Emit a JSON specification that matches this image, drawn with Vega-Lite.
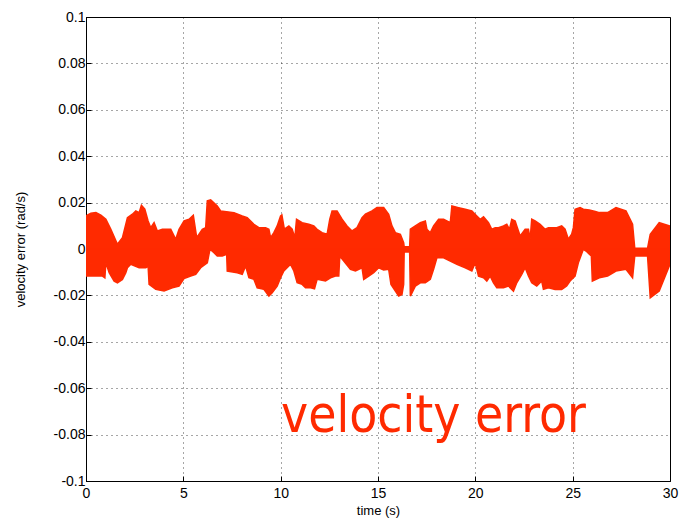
{
  "$schema": "https://vega.github.io/schema/vega-lite/v6.json",
  "width": 584,
  "height": 464,
  "autosize": "none",
  "padding": {"left": 86, "top": 17, "right": 12, "bottom": 41},
  "background": "white",
  "config": {
    "view": {"stroke": "#000", "strokeWidth": 1},
    "font": "Liberation Sans",
    "axis": {
      "domainColor": "#000",
      "tickColor": "#000",
      "labelColor": "#000",
      "titleColor": "#000",
      "labelFont": "Liberation Sans",
      "titleFont": "Liberation Sans",
      "labelFontSize": 14,
      "titleFontSize": 13,
      "titleFontWeight": "normal",
      "labelFlush": false,
      "gridColor": "#000",
      "gridOpacity": 0.7,
      "gridDash": [1, 4],
      "tickSize": -5
    }
  },
  "datasets": {
    "upper": [
      {"t": 0, "v": 0.01425}, {"t": 0.251, "v": 0.01542}, {"t": 0.508, "v": 0.01568}, {"t": 0.764, "v": 0.01456},
      {"t": 1.021, "v": 0.01283}, {"t": 1.277, "v": 0.00851}, {"t": 1.615, "v": 0.00203}, {"t": 1.872, "v": 0.00488},
      {"t": 2.128, "v": 0.01352}, {"t": 2.385, "v": 0.01499}, {"t": 2.559, "v": 0.01641}, {"t": 2.728, "v": 0.01568},
      {"t": 2.846, "v": 0.01888}, {"t": 3.021, "v": 0.01715}, {"t": 3.19, "v": 0.0121}, {"t": 3.328, "v": 0.0092},
      {"t": 3.497, "v": 0.01136}, {"t": 3.667, "v": 0.00778}, {"t": 3.923, "v": 0.00851}, {"t": 4.354, "v": 0.00851},
      {"t": 4.61, "v": 0.00419}, {"t": 4.779, "v": 0.00851}, {"t": 5.036, "v": 0.0121}, {"t": 5.292, "v": 0.01283},
      {"t": 5.513, "v": 0.01456}, {"t": 5.687, "v": 0.00488}, {"t": 5.974, "v": 0.00851}, {"t": 6.149, "v": 0.0092},
      {"t": 6.231, "v": 0.02073}, {"t": 6.405, "v": 0.02117}, {"t": 6.744, "v": 0.01857}, {"t": 6.918, "v": 0.01641},
      {"t": 7.6, "v": 0.01568}, {"t": 8.026, "v": 0.01425}, {"t": 8.282, "v": 0.01352}, {"t": 8.626, "v": 0.01067},
      {"t": 8.882, "v": 0.0092}, {"t": 9.226, "v": 0.0092}, {"t": 9.395, "v": 0.00851}, {"t": 9.482, "v": 0.00488},
      {"t": 9.651, "v": 0.00704}, {"t": 9.821, "v": 0.00994}, {"t": 9.995, "v": 0.01425}, {"t": 10.062, "v": 0.0147},
      {"t": 10.19, "v": 0.0086}, {"t": 10.421, "v": 0.00994}, {"t": 10.59, "v": 0.00851}, {"t": 10.728, "v": 0.00488},
      {"t": 10.815, "v": 0.01283}, {"t": 11.103, "v": 0.01136}, {"t": 11.446, "v": 0.01067}, {"t": 11.703, "v": 0.00994},
      {"t": 11.872, "v": 0.00851}, {"t": 12.128, "v": 0.00704}, {"t": 12.385, "v": 0.00635}, {"t": 12.523, "v": 0.01283},
      {"t": 12.641, "v": 0.01641}, {"t": 12.897, "v": 0.01641}, {"t": 13.154, "v": 0.01283}, {"t": 13.41, "v": 0.00994},
      {"t": 13.667, "v": 0.00778}, {"t": 13.923, "v": 0.0092}, {"t": 14.179, "v": 0.01352}, {"t": 14.354, "v": 0.01499},
      {"t": 14.692, "v": 0.01641}, {"t": 14.949, "v": 0.01784}, {"t": 15.292, "v": 0.01793}, {"t": 15.549, "v": 0.01499},
      {"t": 15.718, "v": 0.00994}, {"t": 15.892, "v": 0.00704}, {"t": 16.149, "v": 0.00635}, {"t": 16.318, "v": 0.00272},
      {"t": 16.344, "v": 0.00099}, {"t": 16.626, "v": 0.00099}, {"t": 16.662, "v": 0.00851}, {"t": 16.918, "v": 0.00994},
      {"t": 17.174, "v": 0.01136}, {"t": 17.431, "v": 0.0121}, {"t": 17.513, "v": 0.00851}, {"t": 17.687, "v": 0.00704},
      {"t": 17.856, "v": 0.00994}, {"t": 18.113, "v": 0.01283}, {"t": 18.369, "v": 0.01283}, {"t": 18.713, "v": 0.01136},
      {"t": 18.795, "v": 0.01857}, {"t": 19.138, "v": 0.01784}, {"t": 19.482, "v": 0.01715}, {"t": 19.821, "v": 0.01641},
      {"t": 20.077, "v": 0.01425}, {"t": 20.251, "v": 0.01283}, {"t": 20.421, "v": 0.0139}, {"t": 20.677, "v": 0.01136},
      {"t": 20.846, "v": 0.00851}, {"t": 21.021, "v": 0.0092}, {"t": 21.19, "v": 0.0092}, {"t": 21.446, "v": 0.00994},
      {"t": 21.615, "v": 0.01067}, {"t": 21.754, "v": 0.00851}, {"t": 21.872, "v": 0.01283}, {"t": 22.046, "v": 0.0121},
      {"t": 22.128, "v": 0.00994}, {"t": 22.303, "v": 0.00562}, {"t": 22.559, "v": 0.00851}, {"t": 22.728, "v": 0.00851},
      {"t": 22.815, "v": 0.00419}, {"t": 22.897, "v": 0.01283}, {"t": 23.072, "v": 0.0121}, {"t": 23.328, "v": 0.01067},
      {"t": 23.585, "v": 0.00851}, {"t": 23.754, "v": 0.0092}, {"t": 24.179, "v": 0.0092}, {"t": 24.436, "v": 0.00994},
      {"t": 24.61, "v": 0.00851}, {"t": 24.779, "v": 0.00419}, {"t": 24.949, "v": 0.00635}, {"t": 25.036, "v": 0.0092},
      {"t": 25.123, "v": 0.01715}, {"t": 25.379, "v": 0.01784}, {"t": 25.549, "v": 0.01715}, {"t": 25.856, "v": 0.01685},
      {"t": 26.164, "v": 0.0162}, {"t": 26.369, "v": 0.01568}, {"t": 26.795, "v": 0.01568}, {"t": 27.226, "v": 0.01784},
      {"t": 27.738, "v": 0.01641}, {"t": 28.077, "v": 0.01067}, {"t": 28.19, "v": 0.0003}, {"t": 28.846, "v": 0.0003},
      {"t": 28.985, "v": 0.00635}, {"t": 29.446, "v": 0.01136}, {"t": 30, "v": 0.00994}
    ],
    "lower": [
      {"t": 0, "v": -0.01166}, {"t": 0.421, "v": -0.01166}, {"t": 0.846, "v": -0.01166}, {"t": 0.969, "v": -0.0124},
      {"t": 1.021, "v": -0.00592}, {"t": 1.19, "v": -0.01024}, {"t": 1.446, "v": -0.01382}, {"t": 1.615, "v": -0.01456},
      {"t": 1.872, "v": -0.01309}, {"t": 2.046, "v": -0.01024}, {"t": 2.128, "v": -0.00808}, {"t": 2.303, "v": -0.00661},
      {"t": 2.728, "v": -0.00808}, {"t": 3.072, "v": -0.00808}, {"t": 3.19, "v": -0.00734}, {"t": 3.241, "v": -0.01525},
      {"t": 3.585, "v": -0.01741}, {"t": 4.01, "v": -0.01814}, {"t": 4.436, "v": -0.01672}, {"t": 4.779, "v": -0.01598},
      {"t": 5.036, "v": -0.01274}, {"t": 5.379, "v": -0.01166}, {"t": 5.636, "v": -0.01093}, {"t": 5.892, "v": -0.00808},
      {"t": 6.231, "v": -0.00592}, {"t": 6.369, "v": -0.00013}, {"t": 6.574, "v": -0.0016}, {"t": 6.744, "v": -0.00302},
      {"t": 7.0, "v": -0.00302}, {"t": 7.226, "v": -0.00229}, {"t": 7.256, "v": -0.0095}, {"t": 7.769, "v": -0.01024},
      {"t": 8.026, "v": -0.01093}, {"t": 8.2, "v": -0.00734}, {"t": 8.369, "v": -0.0124}, {"t": 8.626, "v": -0.01309},
      {"t": 8.795, "v": -0.01672}, {"t": 9.138, "v": -0.01741}, {"t": 9.395, "v": -0.0203}, {"t": 9.564, "v": -0.01888},
      {"t": 9.821, "v": -0.01598}, {"t": 9.995, "v": -0.0124}, {"t": 10.164, "v": -0.0095}, {"t": 10.508, "v": -0.00661},
      {"t": 10.677, "v": -0.0095}, {"t": 10.846, "v": -0.01456}, {"t": 11.103, "v": -0.01525}, {"t": 11.277, "v": -0.01672},
      {"t": 11.533, "v": -0.01672}, {"t": 11.738, "v": -0.01715}, {"t": 11.872, "v": -0.01309}, {"t": 12.303, "v": -0.01382},
      {"t": 12.559, "v": -0.0124}, {"t": 12.815, "v": -0.01166}, {"t": 12.985, "v": -0.01166}, {"t": 13.036, "v": -0.00302},
      {"t": 13.241, "v": -0.00518}, {"t": 13.585, "v": -0.00877}, {"t": 13.841, "v": -0.0095}, {"t": 14.179, "v": -0.00808},
      {"t": 14.267, "v": -0.01309}, {"t": 14.523, "v": -0.01166}, {"t": 14.779, "v": -0.01024}, {"t": 15.036, "v": -0.00808},
      {"t": 15.292, "v": -0.00907}, {"t": 15.549, "v": -0.00877}, {"t": 15.667, "v": -0.01525}, {"t": 15.892, "v": -0.01814},
      {"t": 16.062, "v": -0.0203}, {"t": 16.231, "v": -0.01957}, {"t": 16.318, "v": -0.01525}, {"t": 16.344, "v": -0.0013},
      {"t": 16.626, "v": -0.0013}, {"t": 16.662, "v": -0.0203}, {"t": 16.918, "v": -0.01598}, {"t": 17.174, "v": -0.01456},
      {"t": 17.431, "v": -0.01456}, {"t": 17.687, "v": -0.01309}, {"t": 17.856, "v": -0.00877}, {"t": 18.026, "v": -0.00376},
      {"t": 18.369, "v": -0.00376}, {"t": 18.713, "v": -0.00518}, {"t": 19.051, "v": -0.00661}, {"t": 19.482, "v": -0.00808},
      {"t": 19.821, "v": -0.0095}, {"t": 19.995, "v": -0.00592}, {"t": 20.164, "v": -0.01166}, {"t": 20.421, "v": -0.0124},
      {"t": 20.59, "v": -0.01382}, {"t": 20.764, "v": -0.01166}, {"t": 20.933, "v": -0.01456}, {"t": 21.103, "v": -0.01672},
      {"t": 21.446, "v": -0.01672}, {"t": 21.703, "v": -0.01598}, {"t": 21.959, "v": -0.01814}, {"t": 22.128, "v": -0.01456},
      {"t": 22.385, "v": -0.01093}, {"t": 22.559, "v": -0.00808}, {"t": 22.728, "v": -0.01166}, {"t": 22.897, "v": -0.01456},
      {"t": 23.154, "v": -0.01598}, {"t": 23.41, "v": -0.01382}, {"t": 23.497, "v": -0.01741}, {"t": 23.754, "v": -0.01672},
      {"t": 24.097, "v": -0.01741}, {"t": 24.436, "v": -0.01741}, {"t": 24.692, "v": -0.01598}, {"t": 24.867, "v": -0.01382},
      {"t": 25.123, "v": -0.01166}, {"t": 25.292, "v": -0.00592}, {"t": 25.549, "v": -0.00013}, {"t": 25.687, "v": -0.00086},
      {"t": 25.856, "v": -0.00229}, {"t": 25.959, "v": -0.00302}, {"t": 26.01, "v": -0.01382}, {"t": 26.369, "v": -0.0124},
      {"t": 26.795, "v": -0.01166}, {"t": 27.226, "v": -0.0095}, {"t": 27.738, "v": -0.00877}, {"t": 28.077, "v": -0.0124},
      {"t": 28.19, "v": -0.003}, {"t": 28.846, "v": -0.003}, {"t": 28.985, "v": -0.02104}, {"t": 29.446, "v": -0.01814},
      {"t": 30, "v": -0.00661}
    ]
  },
  "layer": [
    {
      "data": {"name": "upper"},
      "mark": {"type": "area", "color": "#FF2A00", "stroke": "#FF2A00", "strokeWidth": 1.5, "clip": true},
      "encoding": {
        "x": {
          "field": "t", "type": "quantitative",
          "scale": {"domain": [0, 30], "nice": false, "zero": false},
          "axis": {"values": [0, 5, 10, 15, 20, 25, 30], "title": "time (s)", "grid": true, "labelPadding": 10, "titlePadding": 4}
        },
        "y": {
          "field": "v", "type": "quantitative",
          "scale": {"domain": [-0.1, 0.1], "nice": false},
          "axis": {
            "values": [-0.1, -0.08, -0.06, -0.04, -0.02, 0, 0.02, 0.04, 0.06, 0.08, 0.1],
            "labelExpr": "replace(format(datum.value, '.2~f'), '−', '-')",
            "title": "velocity error (rad/s)", "grid": true, "labelPadding": 6, "titlePadding": 26
          }
        },
        "y2": {"datum": 0}
      }
    },
    {
      "data": {"name": "lower"},
      "mark": {"type": "area", "color": "#FF2A00", "stroke": "#FF2A00", "strokeWidth": 1.5, "clip": true},
      "encoding": {
        "x": {"field": "t", "type": "quantitative"},
        "y": {"field": "v", "type": "quantitative"},
        "y2": {"datum": 0}
      }
    },
    {
      "data": {"values": [{"label": "velocity error", "t": 17.85, "v": -0.0787}]},
      "mark": {"type": "text", "color": "#FF2A00", "font": "DejaVu Sans Condensed", "fontSize": 51, "align": "center", "baseline": "alphabetic"},
      "encoding": {
        "x": {"field": "t", "type": "quantitative"},
        "y": {"field": "v", "type": "quantitative"},
        "text": {"field": "label", "type": "nominal"}
      }
    }
  ]
}
